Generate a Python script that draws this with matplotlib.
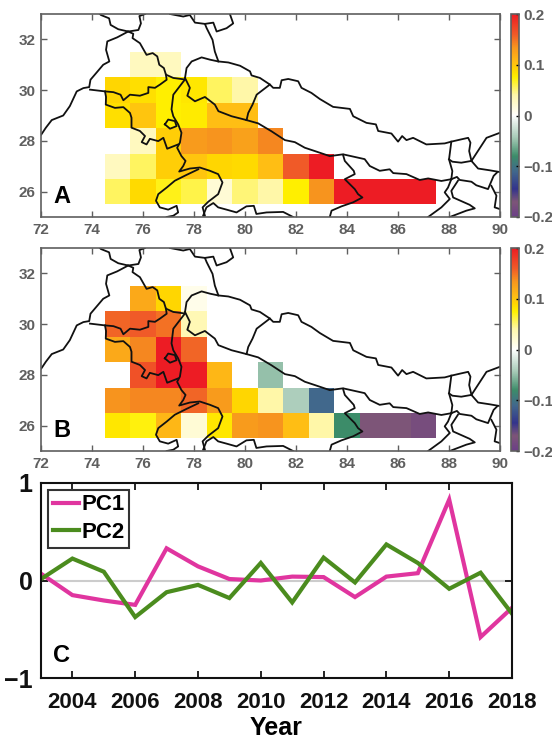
import numpy as np
import matplotlib
matplotlib.use("Agg")
import matplotlib.pyplot as plt
from matplotlib.colors import LinearSegmentedColormap

plt.rcParams['font.family'] = ['Liberation Sans', 'DejaVu Sans']
plt.rcParams['font.weight'] = 'bold'

lons = [75, 76, 77, 78, 79, 80, 81, 82, 83, 84, 85, 86, 87]
lats = [26, 27, 28, 29, 30, 31]
n = np.nan

# rows run south to north
pattern_a = [
    [.055, .088, .07, .06, .02, .05, .04, .075, .135, .2, .2, .2, .2],
    [.03, .055, .095, .10, .09, .088, .105, .16, .2, n, n, n, n],
    [n, .03, .095, .13, .135, .125, .14, n, n, n, n, n, n],
    [.085, .10, .075, .078, .105, .105, n, n, n, n, n, n, n],
    [.09, .085, .075, .08, .055, .04, n, n, n, n, n, n, n],
    [n, .03, .03, n, n, n, n, n, n, n, n, n, n],
]
pattern_b = [
    [.08, .072, .11, .02, .08, .13, .135, .105, .04, -.08, -.17, -.17, -.18],
    [.135, .14, .14, .155, .13, .09, .04, -.04, -.11, n, n, n, n],
    [n, .165, .2, .2, .11, n, -.05, n, n, n, n, n, n],
    [.12, .14, .2, .155, n, n, n, n, n, n, n, n, n],
    [.155, .16, .15, .035, n, n, n, n, n, n, n, n, n],
    [n, .12, .09, .01, n, n, n, n, n, n, n, n, n],
]

years = list(range(2003, 2019))
pc1 = [.07, -.15, -.205, -.25, .33, .145, .015, 0, .04, .035, -.17, .04, .075, .83, -.58, -.28]
pc2 = [.015, .225, .09, -.375, -.12, -.045, -.18, .18, -.225, .235, -.02, .37, .18, -.085, .08, -.34]

# borders as (lon, lat)
west_border = [(72.0, 28.25), (72.18, 28.52), (72.41, 28.82), (72.86, 29.0), (73.12, 29.37), (73.39, 29.95),
               (73.65, 30.08), (73.88, 30.12), (73.93, 30.41), (74.1, 30.61), (74.43, 31.0), (74.67, 31.13),
               (74.54, 31.59), (74.59, 31.92), (74.98, 32.08), (75.41, 32.31), (75.02, 32.4), (74.72, 32.57),
               (74.66, 32.83), (74.34, 32.96), (74.3, 33.0)]
kashmir_east = [(75.41, 32.31), (75.81, 32.37), (75.91, 32.63), (75.85, 32.92), (76.07, 33.0)]
himachal_west = [(75.41, 32.31), (75.61, 32.22), (75.58, 32.05), (75.87, 31.85), (76.13, 31.39), (76.37, 31.46),
                 (76.55, 31.33), (76.63, 31.0), (76.81, 30.87), (76.89, 30.61), (77.18, 30.48), (77.63, 30.42)]
punjab_south = [(76.89, 30.61), (76.92, 30.41), (76.66, 30.22), (76.46, 30.09), (76.2, 30.12), (76.2, 29.89),
                (75.87, 29.78), (75.48, 29.82), (75.22, 29.6), (75.11, 29.82), (74.83, 29.92), (74.5, 29.95),
                (73.91, 30.02)]
haryana_west = [(74.5, 29.95), (74.54, 29.73), (74.53, 29.43), (74.89, 29.3), (75.22, 29.33), (75.48, 29.1),
                (75.54, 28.91), (75.54, 28.52), (75.87, 28.39), (76.07, 28.19), (75.94, 27.95), (76.13, 27.86),
                (76.26, 28.08), (76.59, 27.99), (76.79, 28.12), (76.94, 27.69), (77.37, 27.86)]
delhi = [(76.85, 28.65), (76.98, 28.84), (77.24, 28.78), (77.31, 28.58), (77.05, 28.48), (76.85, 28.65)]
yamuna = [(77.63, 30.41), (77.18, 29.82), (77.11, 29.24), (77.18, 28.97), (77.37, 28.65), (77.5, 28.32),
          (77.44, 27.93), (77.33, 27.73), (77.5, 27.4), (77.66, 27.21), (77.57, 27.01), (77.41, 26.79),
          (77.83, 26.91), (78.22, 26.95), (78.62, 26.82), (78.94, 26.69), (79.11, 26.36), (78.94, 25.9),
          (78.55, 25.6), (78.33, 25.38), (78.42, 25.05)]
chambal = [(78.16, 26.88), (77.7, 26.66), (77.24, 26.43), (76.92, 26.16), (76.59, 25.9), (76.5, 25.64),
           (76.65, 25.38), (76.98, 25.29), (77.31, 25.44), (77.37, 25.18), (77.18, 25.05), (76.92, 25.0)]
south_edge = [(78.35, 25.05), (78.48, 25.38), (78.75, 25.55), (78.94, 25.38), (79.27, 25.29), (79.66, 25.18),
              (80.05, 25.42), (80.34, 25.44), (80.44, 25.12), (80.84, 25.18), (81.49, 25.2), (81.88, 25.0)]
bihar_west = [(83.32, 25.0), (83.39, 25.25), (83.78, 25.42), (84.24, 25.58), (84.6, 25.77), (84.43, 25.9),
              (84.3, 26.1), (83.91, 26.49), (84.3, 26.69), (84.26, 26.82), (83.91, 27.21), (83.84, 27.45)]
nepal_south = [(80.05, 28.82), (80.51, 28.69), (81.03, 28.38), (81.56, 28.03), (81.95, 27.95), (82.34, 27.73),
               (82.73, 27.6), (83.32, 27.4), (83.84, 27.47), (84.69, 27.28), (84.89, 27.01), (85.28, 26.82),
               (85.67, 26.88), (85.81, 26.73), (86.33, 26.69), (86.85, 26.46), (87.18, 26.52), (87.7, 26.42),
               (88.09, 26.49)]
nepal_north = [(80.97, 30.22), (81.1, 30.09), (81.36, 30.09), (81.43, 30.39), (81.69, 30.44), (82.08, 30.35),
               (82.21, 30.09), (82.6, 29.89), (82.93, 29.65), (83.45, 29.34), (84.11, 29.26), (84.24, 28.97),
               (84.76, 28.71), (85.13, 28.65), (85.22, 28.39), (85.74, 28.29), (86.0, 27.97), (86.16, 28.19),
               (86.33, 28.03), (86.59, 28.12), (87.11, 27.86), (87.83, 27.9), (88.09, 27.97), (88.48, 28.06),
               (88.75, 28.12), (88.84, 27.93), (88.79, 27.6), (88.88, 27.21)]
nepal_east = [(88.09, 27.97), (88.0, 27.27), (88.13, 26.81), (88.09, 26.49)]
sikkim_south = [(88.0, 27.27), (88.13, 27.18), (88.48, 27.14), (88.88, 27.21)]
bhutan = [(88.88, 27.21), (89.47, 28.12), (90.0, 28.32)]
bhutan_south = [(88.88, 27.21), (89.14, 26.91), (89.6, 26.84), (90.0, 26.77)]
bengal_north = [(88.09, 26.49), (88.31, 26.58), (88.42, 26.46), (88.88, 26.39), (89.07, 26.25), (89.53, 26.1),
                (89.75, 26.62), (89.88, 26.75)]
bengal_neck_w = [(88.09, 26.49), (87.96, 26.16), (87.83, 25.97), (88.03, 25.71), (87.7, 25.38), (87.18, 25.0)]
bengal_neck_e = [(88.35, 26.43), (88.09, 26.03), (88.16, 25.77), (88.81, 25.48), (89.01, 25.34), (88.68, 25.25),
                 (88.03, 25.0)]
assam_edge = [(89.66, 26.23), (89.86, 25.84), (89.79, 25.38), (90.0, 25.31)]
uttarakhand_north = [(77.64, 30.48), (77.7, 30.87), (77.9, 31.13), (78.29, 31.29), (78.62, 31.2), (78.95, 31.13),
                     (79.34, 31.09), (79.8, 30.96), (80.19, 30.74), (80.25, 30.58), (80.58, 30.48), (80.97, 30.22),
                     (80.45, 29.82), (80.29, 29.43), (80.12, 29.1), (80.06, 28.84)]
uttarakhand_south = [(77.64, 30.48), (77.83, 30.09), (77.73, 29.78), (78.03, 29.56), (78.42, 29.73), (78.81, 29.43),
                     (78.95, 29.17), (79.47, 28.97), (79.86, 28.87), (80.05, 28.82)]
china_line = [(78.95, 31.13), (78.81, 31.52), (78.72, 31.98), (78.49, 32.44), (78.42, 32.61), (78.75, 32.66),
              (78.88, 32.31), (79.27, 32.44), (79.53, 32.63), (79.4, 33.0)]
ladakh_line = [(77.05, 33.0), (77.57, 32.9), (77.83, 32.96), (78.03, 32.66), (78.42, 32.61)]
borders = [west_border, kashmir_east, himachal_west, punjab_south, haryana_west, delhi, yamuna, chambal,
           south_edge, bihar_west, nepal_south, nepal_north, nepal_east, sikkim_south, bhutan, bhutan_south,
           bengal_north, bengal_neck_w, bengal_neck_e, assam_edge, uttarakhand_north, uttarakhand_south,
           china_line, ladakh_line]

cbar_values = [-.2, -.17, -.145, -.11, -.08, -.045, 0, .04, .075, .09, .105, .135, .16, .2]
cbar_colors = ['#6b3f87', '#7d5578', '#33348c', '#41688c', '#3c8c69', '#a3c8b4', '#ffffff',
               '#fff7aa', '#fff000', '#ffd700', '#ffbe14', '#f7941e', '#f05a28', '#ed1c24']
cmap = LinearSegmentedColormap.from_list(
    'pc', [((v + .2) / .4, c) for v, c in zip(cbar_values, cbar_colors)], N=512)

W, H = 552, 738
GRAY = '#5f5f5f'


def box(left, top, right, bottom):
    return [left / W, 1 - bottom / H, (right - left) / W, (bottom - top) / H]


def draw_map(ax_box, cb_box, values, letter):
    ax = fig.add_axes(ax_box)
    x_edges = np.arange(74.5, 88, 1)
    y_edges = np.arange(25.5, 32, 1)
    mesh = ax.pcolormesh(x_edges, y_edges, np.ma.masked_invalid(values), cmap=cmap, vmin=-.2, vmax=.2)
    for line in borders:
        xy = np.array(line)
        ax.plot(xy[:, 0], xy[:, 1], color='#111111', lw=1.3, solid_joinstyle='round')
    ax.set_xlim(72, 90)
    ax.set_ylim(25, 33)
    ax.set_xticks(range(72, 91, 2))
    ax.set_yticks([26, 28, 30, 32])
    ax.tick_params(direction='in', top=True, right=True, length=4, width=1, color=GRAY,
                   labelcolor=GRAY, labelsize=11, pad=4)
    for s in ax.spines.values():
        s.set_color(GRAY)
        s.set_linewidth(1.2)
    ax.text(72.81, 25.82, letter, fontsize=17, color='black', ha='center', va='center')

    cax = fig.add_axes(cb_box)
    cb = fig.colorbar(mesh, cax=cax)
    cb.set_ticks([-.2, -.1, 0, .1, .2], labels=['\u22120.2', '\u22120.1', '0', '0.1', '0.2'])
    cax.tick_params(direction='in', length=2, width=1, color='black', labelcolor=GRAY, labelsize=11, pad=3)
    cb.outline.set_edgecolor(GRAY)
    cb.outline.set_linewidth(1.2)


fig = plt.figure(figsize=(W / 100, H / 100), dpi=100)

draw_map(box(41.3, 14, 500, 217), box(511, 14, 519, 217), pattern_a, 'A')
draw_map(box(41.3, 248, 500, 451), box(511, 248, 519, 451), pattern_b, 'B')

ax = fig.add_axes(box(41, 483, 512, 678))
ax.axhline(0, color='#cccccc', lw=1.5, zorder=1)
ax.plot(years, pc1, color='#e0359f', lw=3, label='PC1', solid_joinstyle='miter')
ax.plot(years, pc2, color='#4b8c1e', lw=3, label='PC2', solid_joinstyle='miter')
ax.set_xlim(2003, 2018)
ax.set_ylim(-1, 1)
ax.set_xticks(range(2004, 2019, 2))
ax.set_yticks([-1, 0, 1])
ax.set_yticklabels(['\u22121', '0', '1'])
ax.tick_params(direction='in', top=True, right=True, length=5, width=1.2, labelcolor='#111111', pad=6)
ax.tick_params(axis='x', labelsize=16, pad=10)
ax.tick_params(axis='y', labelsize=18)
for s in ax.spines.values():
    s.set_linewidth(1.5)
    s.set_color('#111111')
ax.set_xlabel('Year', fontsize=18, fontweight='bold', labelpad=2)
ax.text(2003.65, -.77, 'C', fontsize=17, ha='center', va='center')
leg = ax.legend(loc='upper left', bbox_to_anchor=(0.015, 0.964), borderaxespad=0, fancybox=False, framealpha=1,
                edgecolor='#333333', handlelength=1.2, handletextpad=0.1, labelspacing=0.3,
                borderpad=0.2, prop={'size': 16, 'weight': 'bold'})
leg.get_frame().set_linewidth(1.5)

fig.savefig('out.png', dpi=100)
